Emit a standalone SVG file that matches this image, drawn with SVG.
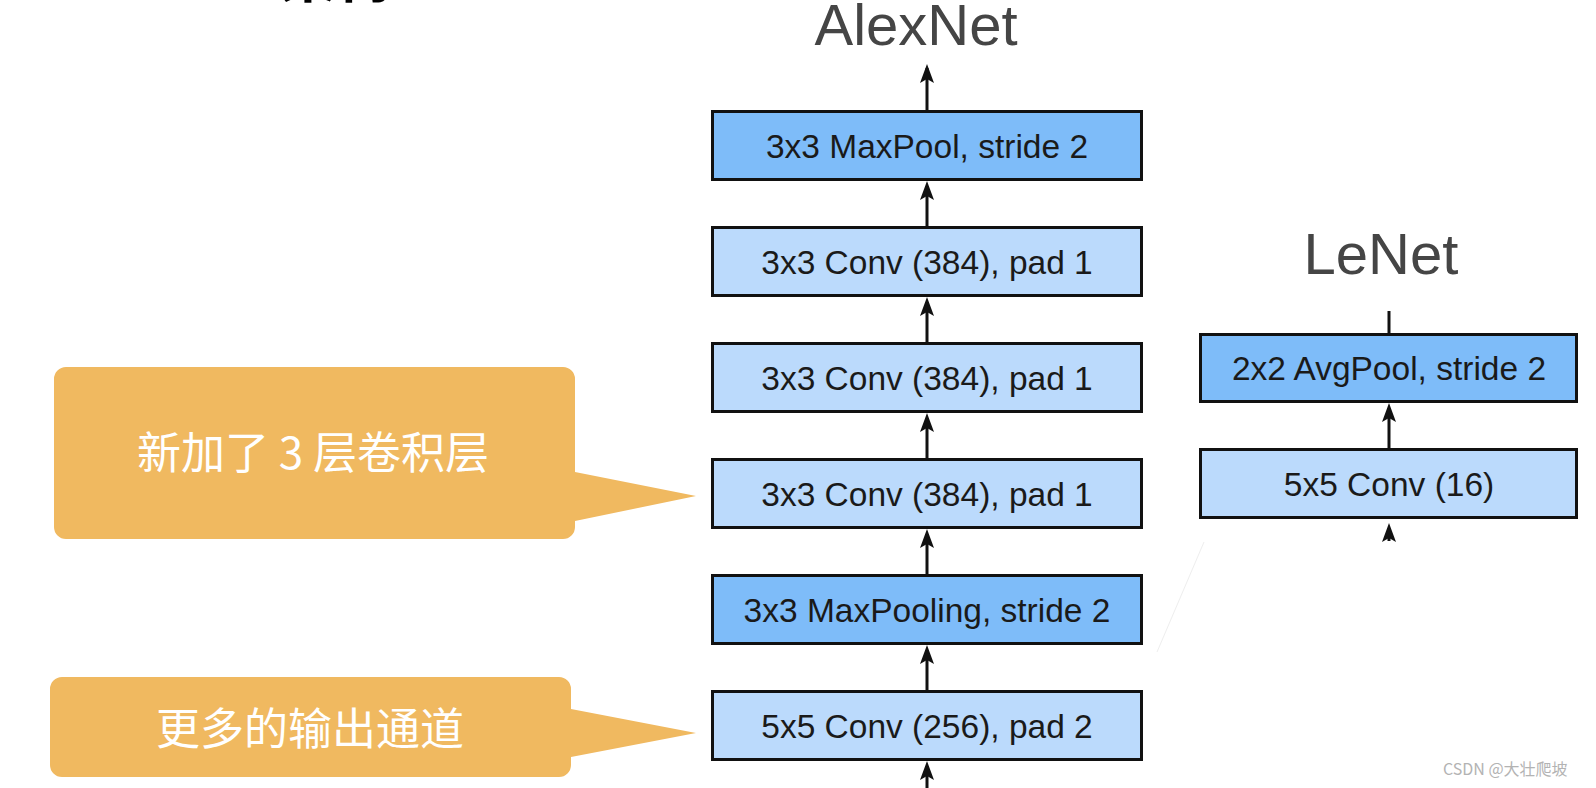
<svg xmlns="http://www.w3.org/2000/svg" width="1596" height="788" viewBox="0 0 1596 788">
<style>
.box{stroke:#111;stroke-width:3}
.pool{fill:#7ebcf9}
.conv{fill:#bbdafc}
.lbl{font-family:"Liberation Sans",Arial,sans-serif;font-size:33.5px;fill:#1a1a1a;text-anchor:middle}
.title{font-family:"Liberation Sans",Arial,sans-serif;font-size:58px;fill:#454545;text-anchor:middle}
.conn{stroke:#111;stroke-width:3;fill:none}
.head{fill:#111}
.callout{fill:#f0b960}
.ctext{font-family:"Noto Sans CJK SC",sans-serif;font-size:44px;fill:#fff;text-anchor:middle}
</style>
<rect width="1596" height="788" fill="#fff"/>
<text x="280" y="-3" font-family="Noto Sans CJK SC,sans-serif" font-size="56" font-weight="bold" fill="#000">架构</text>
<text class="title" x="916" y="45">AlexNet</text>
<text class="title" x="1381" y="274">LeNet</text>
<g id="connectors">
<path d="M927,110 V68" class="conn"/>
<path class="head" d="M927,64 l-7,19 l7,-4 l7,4 Z"/>
<path d="M927,226 V186" class="conn"/>
<path class="head" d="M927,181 l-7,19 l7,-4 l7,4 Z"/>
<path d="M927,342 V302" class="conn"/>
<path class="head" d="M927,297 l-7,19 l7,-4 l7,4 Z"/>
<path d="M927,458 V418" class="conn"/>
<path class="head" d="M927,413 l-7,19 l7,-4 l7,4 Z"/>
<path d="M927,574 V534" class="conn"/>
<path class="head" d="M927,529 l-7,19 l7,-4 l7,4 Z"/>
<path d="M927,690 V650" class="conn"/>
<path class="head" d="M927,645 l-7,19 l7,-4 l7,4 Z"/>
<path d="M927,788 V766" class="conn"/>
<path class="head" d="M927,761 l-7,19 l7,-4 l7,4 Z"/>
<path d="M1389,333 V311" class="conn"/>
<path d="M1389,448 V408" class="conn"/>
<path class="head" d="M1389,403 l-7,19 l7,-4 l7,4 Z"/>
<path d="M1389,541 V528" class="conn"/>
<path class="head" d="M1389,523 l-7,19 l7,-4 l7,4 Z"/>
</g>
<g id="a-pool3"><rect class="box pool" x="712.5" y="111.5" width="429" height="68"/><text class="lbl" x="927" y="158">3x3 MaxPool, stride 2</text></g>
<g id="a-conv5"><rect class="box conv" x="712.5" y="227.5" width="429" height="68"/><text class="lbl" x="927" y="274">3x3 Conv (384), pad 1</text></g>
<g id="a-conv4"><rect class="box conv" x="712.5" y="343.5" width="429" height="68"/><text class="lbl" x="927" y="390">3x3 Conv (384), pad 1</text></g>
<g id="a-conv3"><rect class="box conv" x="712.5" y="459.5" width="429" height="68"/><text class="lbl" x="927" y="506">3x3 Conv (384), pad 1</text></g>
<g id="a-pool2"><rect class="box pool" x="712.5" y="575.5" width="429" height="68"/><text class="lbl" x="927" y="622">3x3 MaxPooling, stride 2</text></g>
<g id="a-conv2"><rect class="box conv" x="712.5" y="691.5" width="429" height="68"/><text class="lbl" x="927" y="738">5x5 Conv (256), pad 2</text></g>
<g id="l-pool"><rect class="box pool" x="1200.5" y="334.5" width="376" height="67"/><text class="lbl" x="1389" y="380">2x2 AvgPool, stride 2</text></g>
<g id="l-conv"><rect class="box conv" x="1200.5" y="449.5" width="376" height="68"/><text class="lbl" x="1389" y="496">5x5 Conv (16)</text></g>
<g id="callout-1">
<path class="callout" d="M66,367 H563 A12,12 0 0 1 575,379 V472 L696,496 L575,521 V527 A12,12 0 0 1 563,539 H66 A12,12 0 0 1 54,527 V379 A12,12 0 0 1 66,367 Z"/>
<text class="ctext" x="313" y="469">新加了 3 层卷积层</text>
</g>
<g id="callout-2">
<path class="callout" d="M62,677 H559 A12,12 0 0 1 571,689 V709 L696,733 L571,757 V765 A12,12 0 0 1 559,777 H62 A12,12 0 0 1 50,765 V689 A12,12 0 0 1 62,677 Z"/>
<text class="ctext" x="310" y="745">更多的输出通道</text>
</g>
<line x1="1204" y1="542" x2="1157" y2="652" stroke="#eeeeee" stroke-width="1"/>
<text x="1443" y="775" font-family="Noto Sans CJK SC,sans-serif" font-size="16" fill="#b3b3b3">CSDN @大壮爬坡</text>
</svg>
